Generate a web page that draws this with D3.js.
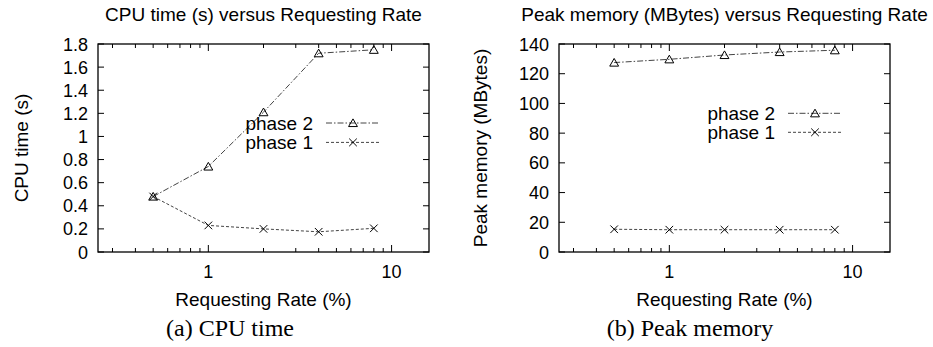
<!DOCTYPE html>
<html>
<head>
<meta charset="utf-8">
<script src="https://cdn.jsdelivr.net/npm/d3@7"></script>
<style>
  body { margin: 0; background: #fff; }
  svg text { font-family: "Liberation Sans", Arial, sans-serif; fill: #000; }
</style>
</head>
<body>
<div id="chart"></div>
<script>
/* --- data --------------------------------------------------------------- */
const rates = [0.5, 1, 2, 4, 8];                       // requesting rate (%)
const cpuPhase2 = [0.48, 0.74, 1.21, 1.72, 1.75];     // CPU time (s)
const cpuPhase1 = [0.48, 0.23, 0.20, 0.175, 0.205];
const memPhase2 = [127.5, 129.7, 132.6, 134.6, 135.8]; // peak memory (MB)
const memPhase1 = [15.3, 15, 15, 15, 15];
const xTickLabels = [1, 10];
const cpuTicks = [0, 0.2, 0.4, 0.6, 0.8, 1, 1.2, 1.4, 1.6, 1.8];
const memTicks = [0, 20, 40, 60, 80, 100, 120, 140];

/* --- layout ------------------------------------------------------------- */
const W = 933, H = 347;
const svg = d3.select("#chart").append("svg").attr("width", W).attr("height", H);

const dash2 = "6,2,1.5,2";   // phase 2: dash-dot
const dash1 = "3,2";         // phase 1: dashed

const panels = [
  { left: 98, title: "CPU time (s) versus Requesting Rate", ylabel: "CPU time (s)",
    ymax: 1.8, yticks: cpuTicks, fmt: d => d3.format("")(d), p2: cpuPhase2, p1: cpuPhase1,
    ylabX: 28, legendEnd: 313, legendY: 123, legendGap: 19.4,
    caption: "(a) CPU time", capX: 230 },
  { left: 559, title: "Peak memory (MBytes) versus Requesting Rate", ylabel: "Peak memory (MBytes)",
    ymax: 140, yticks: memTicks, fmt: d => d, p2: memPhase2, p1: memPhase1,
    ylabX: 487, legendEnd: 775, legendY: 113.3, legendGap: 19,
    caption: "(b) Peak memory", capX: 690 }
];

const plotTop = 44, plotBottom = 252, pw = 331;

const triangle = d3.symbol().type(d3.symbolTriangle).size(34);

function drawMarker(g, type, cx, cy) {
  if (type === "tri") {
    g.append("path").attr("d", triangle())
      .attr("transform", `translate(${cx},${cy + 1})`)
      .attr("fill", "none").attr("stroke", "#000").attr("stroke-width", 1);
  } else {
    const s = 3.8;
    g.append("path").attr("d", `M${cx - s},${cy - s}L${cx + s},${cy + s}M${cx - s},${cy + s}L${cx + s},${cy - s}`)
      .attr("stroke", "#000").attr("stroke-width", 1);
  }
}

panels.forEach(p => {
  const g = svg.append("g");
  const x = d3.scaleLog().domain([0.25, 16]).range([p.left, p.left + pw]);
  const y = d3.scaleLinear().domain([0, p.ymax]).range([plotBottom, plotTop]);

  /* --- ticks (gnuplot style: inward, mirrored) ------------------------- */
  const minor = [0.3, 0.4, 0.5, 0.6, 0.7, 0.8, 0.9, 2, 3, 4, 5, 6, 7, 8, 9];
  minor.forEach(v => {
    g.append("line").attr("x1", x(v)).attr("x2", x(v)).attr("y1", plotBottom).attr("y2", plotBottom - 4);
    g.append("line").attr("x1", x(v)).attr("x2", x(v)).attr("y1", plotTop).attr("y2", plotTop + 4);
  });
  xTickLabels.forEach(v => {
    g.append("line").attr("x1", x(v)).attr("x2", x(v)).attr("y1", plotBottom).attr("y2", plotBottom - 7);
    g.append("line").attr("x1", x(v)).attr("x2", x(v)).attr("y1", plotTop).attr("y2", plotTop + 7);
    g.append("text").attr("x", x(v)).attr("y", 278).attr("text-anchor", "middle")
      .style("font-size", "18px").text(v);
  });
  p.yticks.forEach(v => {
    g.append("line").attr("x1", p.left).attr("x2", p.left + 6).attr("y1", y(v)).attr("y2", y(v));
    g.append("line").attr("x1", p.left + pw).attr("x2", p.left + pw - 6).attr("y1", y(v)).attr("y2", y(v));
    g.append("text").attr("x", p.left - 10).attr("y", y(v) + 6.5).attr("text-anchor", "end")
      .style("font-size", "18px").text(p.fmt(v));
  });
  g.selectAll("line").attr("stroke", "#000").attr("stroke-width", 1);

  /* --- frame ----------------------------------------------------------- */
  g.append("rect").attr("x", p.left).attr("y", plotTop).attr("width", pw).attr("height", plotBottom - plotTop)
    .attr("fill", "none").attr("stroke", "#000").attr("stroke-width", 1.3);

  /* --- series ---------------------------------------------------------- */
  const line = d3.line().x((d, i) => x(rates[i])).y(d => y(d));
  g.append("path").attr("d", line(p.p1)).attr("fill", "none")
    .attr("stroke", "#444").attr("stroke-width", 1).attr("stroke-dasharray", dash1);
  g.append("path").attr("d", line(p.p2)).attr("fill", "none")
    .attr("stroke", "#444").attr("stroke-width", 1).attr("stroke-dasharray", dash2);
  p.p1.forEach((v, i) => drawMarker(g, "x", x(rates[i]), y(v)));
  p.p2.forEach((v, i) => drawMarker(g, "tri", x(rates[i]), y(v)));

  /* --- legend ---------------------------------------------------------- */
  [["phase 2", dash2, "tri"], ["phase 1", dash1, "x"]].forEach(([name, dash, mk], i) => {
    const ly = p.legendY + i * p.legendGap;
    g.append("text").attr("x", p.legendEnd).attr("y", ly + 6.5).attr("text-anchor", "end")
      .style("font-size", "19px").text(name);
    g.append("line").attr("x1", p.legendEnd + 13).attr("x2", p.legendEnd + 67)
      .attr("y1", ly).attr("y2", ly)
      .attr("stroke", "#444").attr("stroke-width", 1).attr("stroke-dasharray", dash);
    drawMarker(g, mk, p.legendEnd + 40, ly);
  });

  /* --- titles & labels ------------------------------------------------- */
  g.append("text").attr("x", p.left + pw / 2).attr("y", 21).attr("text-anchor", "middle")
    .style("font-size", "19px").text(p.title);
  g.append("text").attr("x", p.left + pw / 2).attr("y", 306).attr("text-anchor", "middle")
    .style("font-size", "19px").text("Requesting Rate (%)");
  g.append("text").attr("transform", `translate(${p.ylabX},${(plotTop + plotBottom) / 2}) rotate(-90)`)
    .attr("text-anchor", "middle").style("font-size", "19px").text(p.ylabel);
  g.append("text").attr("x", p.capX).attr("y", 336).attr("text-anchor", "middle")
    .style("font-family", "'Liberation Serif', 'Times New Roman', serif")
    .style("font-size", "24px").text(p.caption);
});
</script>
</body>
</html>
